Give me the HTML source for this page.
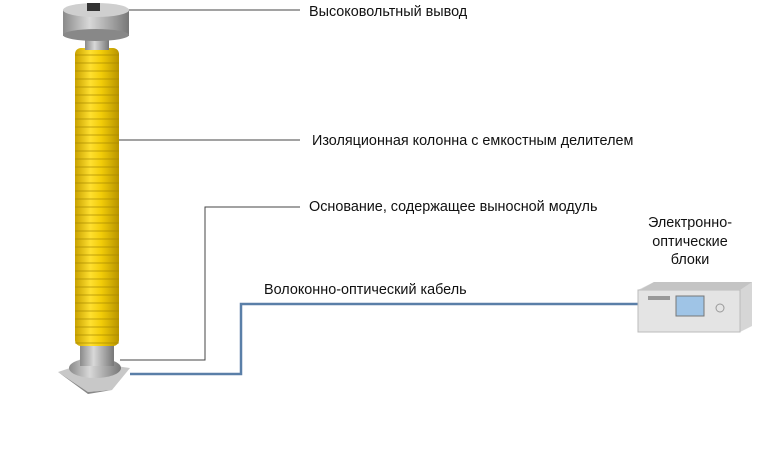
<!DOCTYPE html>
<html><head><meta charset="utf-8"><style>
body{margin:0;background:#fff;width:777px;height:446px;overflow:hidden}
text{font-family:"Liberation Sans",sans-serif;font-size:14.4px;fill:#111}
</style></head><body>
<svg width="777" height="446" xmlns="http://www.w3.org/2000/svg">
<defs>
<linearGradient id="y" x1="0" x2="1"><stop offset="0" stop-color="#c9a200"/><stop offset=".35" stop-color="#ffe030"/><stop offset=".6" stop-color="#f2cc08"/><stop offset="1" stop-color="#b89400"/></linearGradient>
<linearGradient id="g" x1="0" x2="1"><stop offset="0" stop-color="#8a8a8a"/><stop offset=".4" stop-color="#d8d8d8"/><stop offset="1" stop-color="#777"/></linearGradient>
<pattern id="rib" width="10" height="8" patternUnits="userSpaceOnUse"><rect y="6" width="10" height="2" fill="#a58500" opacity=".35"/></pattern>
</defs>
<g stroke="#444" stroke-width="1" fill="none">
<path d="M103 10H300"/><path d="M117 140H300"/><path d="M120 360H205V207H300"/>
</g>
<path d="M130 374H241V304H640" stroke="#5a7fa8" stroke-width="2.5" fill="none"/>
<polygon points="58,372 88,362 130,368 112,390 88,392" fill="#c8c8c8"/>
<polygon points="58,372 88,392 112,390 88,394" fill="#888"/>
<ellipse cx="95" cy="368" rx="26" ry="10" fill="url(#g)"/>
<rect x="80" y="340" width="34" height="26" fill="url(#g)"/>
<rect x="75" y="48" width="44" height="298" rx="6" fill="url(#y)"/>
<rect x="75" y="52" width="44" height="292" fill="url(#rib)"/>
<rect x="85" y="33" width="24" height="17" fill="url(#g)"/>
<rect x="63" y="10" width="66" height="26" fill="url(#g)"/>
<ellipse cx="96" cy="35" rx="33" ry="6" fill="#888"/>
<ellipse cx="96" cy="10" rx="33" ry="7" fill="#cfcfcf"/>
<rect x="87" y="3" width="13" height="8" fill="#333"/>
<polygon points="638,290 654,282 752,282 752,326 740,332 638,332" fill="#d6d6d6"/>
<polygon points="638,290 740,290 740,332 638,332" fill="#e4e4e4" stroke="#bbb"/>
<polygon points="640,290 654,282 752,282 740,290" fill="#c4c4c4"/>
<rect x="676" y="296" width="28" height="20" fill="#9fc4e6" stroke="#777"/>
<rect x="648" y="296" width="22" height="4" fill="#999"/>
<circle cx="720" cy="308" r="4" fill="none" stroke="#999"/>
<text x="309" y="16">Высоковольтный вывод</text>
<text x="312" y="145">Изоляционная колонна с емкостным делителем</text>
<text x="309" y="211">Основание, содержащее выносной модуль</text>
<text x="264" y="294">Волоконно-оптический кабель</text>
<g text-anchor="middle"><text x="690" y="227">Электронно-</text><text x="690" y="246">оптические</text><text x="690" y="264">блоки</text></g>
</svg>
</body></html>
